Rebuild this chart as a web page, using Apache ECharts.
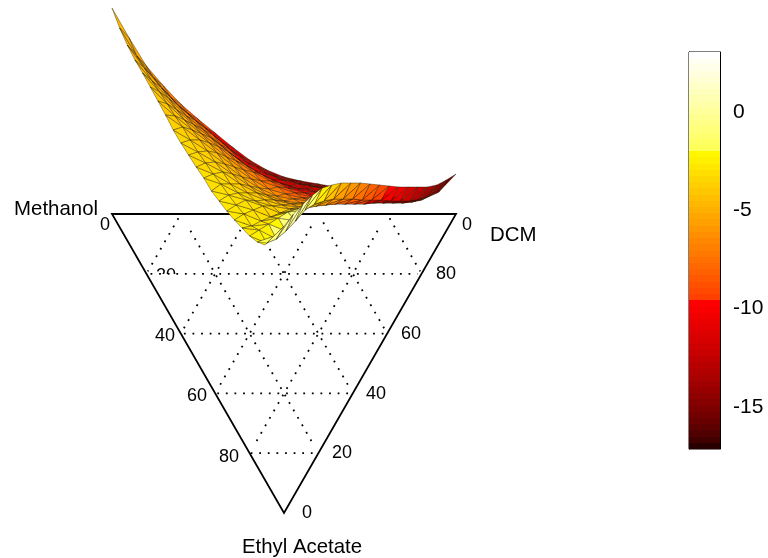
<!DOCTYPE html>
<html>
<head>
<meta charset="utf-8">
<style>html,body{margin:0;padding:0;background:#fff}#c{width:768px;height:558px}</style>
<script src="https://cdn.jsdelivr.net/npm/echarts@6/dist/echarts.min.js"></script>
</head>
<body>
<div id="c"></div>
<script>
// ---------- data ----------
const componentNames = ['Methanol', 'DCM', 'Ethyl Acetate'];
const gridPercents = [20, 40, 60, 80];
const methanolTicks = ['0', '20', '40', '60', '80'];
const dcmTicks = ['0', '80', '60', '40', '20', '0'];
const colorbarLabels = [0, -5, -10, -15];
const colorbarTicks = [-0.7, -5.28, -9.76, -14.28];
const colorMin = -17.14, colorMax = 3.06;

// Drawn level of the surface; one row per Ethyl Acetate step (5 % apart), one entry per DCM step.
const surfaceLevel = [
  [8,38,66,86,104,119,133,147,160,170,177,181,184,187,190,192,194,200,200,192,174],
  [28,56,78,98,114,128,143,156,167,176,181,185,188,190,192,194,199,202,196,180],
  [45,68,88,106,121,135,150,163,173,180,184,187,190,192,194,199,203,199,185],
  [60,81,99,116,130,145,159,171,180,186,189,192,194,195,199,203,201,187],
  [73,92,110,125,138,152,165,175,183,189,192,195,197,199,203,201,187],
  [87,104,120,134,147,161,172,181,188,193,196,198,200,203,201,187],
  [101,116,130,143,157,170,181,187,193,197,199,200,204,200,187],
  [115,127,140,153,167,179,189,194,198,200,201,204,200,186],
  [130,140,151,164,177,188,196,199,201,202,204,200,185],
  [143,152,162,174,186,195,201,203,203,204,199,184],
  [155,163,172,184,193,200,204,204,205,199,183],
  [167,174,184,193,200,205,207,206,199,183],
  [178,184,193,201,206,209,208,201,183],
  [191,195,200,206,213,209,204,185],
  [201,205,210,217,212,210,188],
  [211,214,221,218,221,195],
  [220,226,224,231,204],
  [228,230,239,214],
  [236,243,226],
  [242,236],
  [245]
];
// Colour value of the surface, same layout.
const surfaceValue = [
  [-4.5,-5,-6,-7,-8,-9,-10,-11.5,-12.5,-13.5,-14.5,-15,-15,-15,-15,-14.5,-14.5,-14.5,-15,-15.5,-17],
  [-4.5,-5,-6,-7,-8,-9,-10,-11,-12,-13,-13.5,-14,-14,-13.5,-13,-13.5,-13.5,-14,-14.5,-15],
  [-4.5,-4.8,-5.5,-6.5,-7.5,-8.5,-9.5,-10.2,-11.2,-12,-13,-13,-13,-12.5,-12.5,-12.5,-13,-13.5,-14],
  [-4.3,-4.5,-5.2,-6,-7,-8,-9,-9.7,-10.3,-11,-12,-12,-12,-12,-11.5,-12,-12.5,-13],
  [-4.2,-4.4,-5,-5.7,-6.5,-7.4,-8.3,-9.2,-9.8,-10.5,-11,-11,-11,-11,-11.5,-11.5,-12],
  [-4,-4.2,-4.7,-5.4,-6,-6.8,-7.7,-8.6,-9.4,-9.9,-10.3,-10.5,-10,-11,-10.5,-11],
  [-3.9,-4.1,-4.5,-5.1,-5.7,-6.3,-7.1,-8,-8.8,-9.5,-9.8,-9.5,-10,-9.8,-10],
  [-3.8,-3.9,-4.3,-4.8,-5.3,-5.9,-6.6,-7.3,-8.2,-8.9,-9,-9.5,-9,-9.5],
  [-3.6,-3.7,-4,-4.5,-5,-5.5,-6.1,-6.8,-7.5,-8,-9,-8,-8.5],
  [-3.4,-3.6,-3.9,-4.2,-4.7,-5.1,-5.6,-6.3,-6.8,-8,-7,-7.5],
  [-3.3,-3.4,-3.7,-4,-4.4,-4.8,-5.2,-5.8,-7,-6,-6.5],
  [-3.1,-3.3,-3.5,-3.8,-4.1,-4.5,-5,-5.5,-5,-5.5],
  [-3,-3.1,-3.3,-3.5,-3.8,-4.1,-4.5,-3.5,-4.5],
  [-2.9,-3,-3.2,-3.4,-3.6,-2.5,-2,-3],
  [-2.8,-2.9,-3.1,-3.3,-2.5,-0.5,-2],
  [-2.7,-2.8,-3,-3,0.5,-1],
  [-2.6,-2.7,-3,0,0.5],
  [-2.5,-3,-1,1],
  [-2.5,-2,0],
  [-2.5,-1],
  [-2.5]
];

// ---------- layout and style ----------
const W = 768, H = 558;
const corner = { m: [112, 214], d: [456, 214], e: [284, 513] };
const surfaceX = { m: 112, d: 456, e: 265 };
const FONT = '"Liberation Sans", Arial, sans-serif';
const texts = [
  { s: componentNames[0], x: 98, y: 209, a: 'right', f: 20.4 },
  { s: componentNames[1], x: 490, y: 235, a: 'left', f: 20.4 },
  { s: componentNames[2], x: 302, y: 547, a: 'center', f: 20.4 },
  { s: methanolTicks[0], x: 105, y: 225, a: 'center', f: 18 },
  { s: methanolTicks[2], x: 165, y: 336, a: 'center', f: 18 },
  { s: methanolTicks[3], x: 197, y: 396, a: 'center', f: 18 },
  { s: methanolTicks[4], x: 229, y: 457, a: 'center', f: 18 },
  { s: dcmTicks[0], x: 467, y: 225, a: 'center', f: 18 },
  { s: dcmTicks[1], x: 446, y: 274, a: 'center', f: 18 },
  { s: dcmTicks[2], x: 411, y: 334, a: 'center', f: 18 },
  { s: dcmTicks[3], x: 376, y: 394, a: 'center', f: 18 },
  { s: dcmTicks[4], x: 342, y: 453, a: 'center', f: 18 },
  { s: dcmTicks[5], x: 307, y: 513, a: 'center', f: 18 }
];

function mix(p, q, t) { return [p[0] + (q[0] - p[0]) * t, p[1] + (q[1] - p[1]) * t]; }
const levels = [];
for (let i = 0; i < 64; i++) {
  const r = i < 24 ? 0.16 + 0.84 * Math.pow(i / 23, 0.7) : 1;
  const g = i < 24 ? 0 : (i < 48 ? 0.25 + 0.75 * (i - 24) / 24 : 1);
  const b = i < 48 ? 0 : 0.35 + 0.65 * (i - 48) / 15;
  levels.push('rgb(' + Math.round(r * 255) + ',' + Math.round(g * 255) + ',' + Math.round(b * 255) + ')');
}
function colourOf(v) {
  const t = (v - colorMin) / (colorMax - colorMin);
  return levels[Math.max(0, Math.min(63, Math.floor(t * 64)))];
}

// vertex by (r = Methanol step, c = DCM step)
function vertex(r, c) {
  const k = 20 - r - c;
  const x = (r * surfaceX.m + c * surfaceX.d + k * surfaceX.e) / 20;
  return { p: [x, surfaceLevel[k][c]], v: surfaceValue[k][c] };
}
const triangles = [];
for (let r = 19; r >= 0; r--) {
  for (let c = 0; c <= 19 - r; c++) {
    triangles.push([vertex(r, c), vertex(r, c + 1), vertex(r + 1, c)]);
    if (c <= 18 - r) triangles.push([vertex(r, c + 1), vertex(r + 1, c + 1), vertex(r + 1, c)]);
  }
}

const dotted = [];
gridPercents.forEach(function (pc) {
  const t = pc / 100;
  const top = mix(corner.m, corner.d, t);
  const left = mix(corner.m, corner.e, t);
  const right = mix(corner.d, corner.e, 1 - t);
  const lh = mix(corner.m, corner.e, t), rh = mix(corner.d, corner.e, t);
  dotted.push([mix(lh, rh, 0.015), mix(lh, rh, 0.985)]);
  dotted.push([mix(top, left, 0.07), mix(top, left, 0.96)]);
  dotted.push([mix(top, right, 0.07), mix(top, right, 0.96)]);
});

function indices(n) { const a = []; for (let i = 0; i < n; i++) a.push([i, 0]); return a; }

const chart = echarts.init(document.getElementById('c'), null, { renderer: 'canvas' });
chart.setOption({
  animation: false,
  backgroundColor: '#fff',
  grid: [
    { left: 0, top: 0, width: W, height: H, show: false },
    { left: 689, top: 52, width: 31, height: 397, show: true, borderColor: '#000', borderWidth: 1, backgroundColor: 'transparent' }
  ],
  xAxis: [
    { type: 'value', gridIndex: 0, min: 0, max: W, show: false },
    { type: 'value', gridIndex: 1, min: 0, max: 1, show: false }
  ],
  yAxis: [
    { type: 'value', gridIndex: 0, min: 0, max: H, inverse: true, show: false },
    { type: 'value', gridIndex: 1, min: colorMin, max: colorMax, position: 'right',
      splitLine: { show: false },
      axisLine: { show: true, onZero: false, lineStyle: { color: '#000', width: 1 } },
      axisTick: { show: true, inside: true, length: 3, customValues: colorbarTicks, lineStyle: { color: '#000' } },
      axisLabel: { show: true, margin: 13, color: '#000', fontSize: 21, fontFamily: FONT, customValues: colorbarLabels,
        showMinLabel: true, showMaxLabel: true } },
    { type: 'value', gridIndex: 1, min: colorMin, max: colorMax, position: 'left',
      splitLine: { show: false },
      axisLine: { show: true, onZero: false, lineStyle: { color: '#000', width: 1 } },
      axisTick: { show: true, inside: true, length: 3, customValues: colorbarTicks, lineStyle: { color: '#000' } },
      axisLabel: { show: false } }
  ],
  series: [
    { // colour bar
      type: 'custom', xAxisIndex: 1, yAxisIndex: 1, clip: false, silent: true, z: 1,
      data: indices(64),
      renderItem: function (params, api) {
        const i = params.dataIndex, step = (colorMax - colorMin) / 64;
        const a = api.coord([0, colorMin + (i + 1) * step]), b = api.coord([1, colorMin + i * step]);
        const y0 = Math.round(a[1]), y1 = Math.round(b[1]);
        return { type: 'rect', shape: { x: a[0], y: y0, width: b[0] - a[0], height: y1 - y0 },
          style: { fill: levels[i] } };
      }
    },
    { // clipped "20" tick label
      type: 'custom', xAxisIndex: 0, yAxisIndex: 0, clip: false, silent: true, z: 2,
      data: indices(1),
      renderItem: function (params, api) {
        const c = api.coord([166, 276]), m = api.coord([157, 274]), n = api.coord([178, 290]);
        return { type: 'group', children: [
          { type: 'text', style: { text: methanolTicks[1], x: c[0], y: c[1], align: 'center', verticalAlign: 'middle',
            font: '18px ' + FONT, fill: '#000' } },
          { type: 'rect', shape: { x: m[0], y: m[1], width: n[0] - m[0], height: n[1] - m[1] }, style: { fill: '#fff' } }
        ] };
      }
    },
    { // dotted grid
      type: 'custom', xAxisIndex: 0, yAxisIndex: 0, clip: false, silent: true, z: 3,
      data: indices(dotted.length),
      renderItem: function (params, api) {
        const s = dotted[params.dataIndex];
        const a = api.coord(s[0]), b = api.coord(s[1]);
        return { type: 'line', shape: { x1: a[0], y1: a[1], x2: b[0], y2: b[1] },
          style: { stroke: '#000', lineWidth: 1.8, lineDash: [1.8, 6.8], fill: null } };
      }
    },
    { // triangle frame
      type: 'custom', xAxisIndex: 0, yAxisIndex: 0, clip: false, silent: true, z: 4,
      data: indices(1),
      renderItem: function (params, api) {
        return { type: 'polygon',
          shape: { points: [api.coord(corner.m), api.coord(corner.d), api.coord(corner.e)] },
          style: { stroke: '#000', lineWidth: 1.8, fill: null } };
      }
    },
    { // surface
      type: 'custom', xAxisIndex: 0, yAxisIndex: 0, clip: false, silent: true, z: 5, progressive: 0,
      data: indices(triangles.length),
      renderItem: function (params, api) {
        const t = triangles[params.dataIndex];
        const v = (t[0].v + t[1].v + t[2].v) / 3;
        return { type: 'polygon',
          shape: { points: [api.coord(t[0].p), api.coord(t[1].p), api.coord(t[2].p)] },
          style: { fill: colourOf(v), stroke: 'rgba(30,20,0,0.7)', lineWidth: 0.55, lineJoin: 'round' } };
      }
    },
    { // labels
      type: 'custom', xAxisIndex: 0, yAxisIndex: 0, clip: false, silent: true, z: 6,
      data: indices(texts.length),
      renderItem: function (params, api) {
        const t = texts[params.dataIndex], c = api.coord([t.x, t.y]);
        return { type: 'text', style: { text: t.s, x: c[0], y: c[1], align: t.a, verticalAlign: 'middle',
          font: t.f + 'px ' + FONT, fill: '#000' } };
      }
    }
  ]
});
</script>
</body>
</html>
